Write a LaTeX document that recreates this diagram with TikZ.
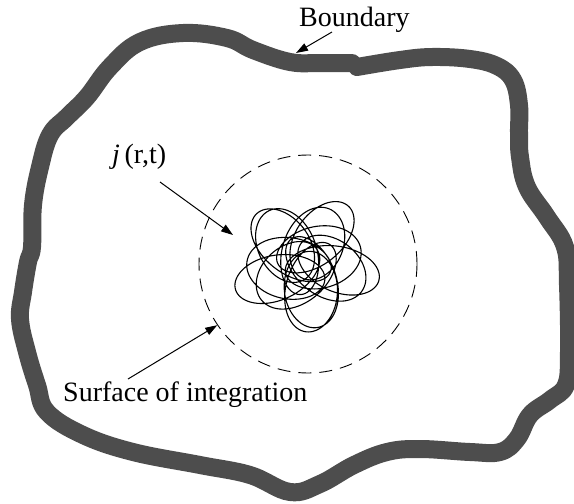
\documentclass[tikz,border=0pt]{standalone}
\usepackage{fontspec}
\setmainfont{Liberation Serif}
\usetikzlibrary{arrows.meta}
\definecolor{bnd}{HTML}{4D4D4D}
\definecolor{ink}{HTML}{000000}
\tikzset{
  wall/.style={draw=bnd,line width=18pt,line cap=round,line join=round},
  surf/.style={circle,draw=ink,line width=0.9pt,dash pattern=on 13pt off 8pt,minimum size=218pt,inner sep=0pt},
  curr/.style={draw=ink,line width=1.1pt},
  arr/.style={-{Triangle[length=12pt,width=8pt]},line width=1pt,draw=ink},
  lab/.style={font=\fontsize{28}{32}\selectfont,inner sep=0pt,anchor=base west},
}
\begin{document}
\begin{tikzpicture}[x=1pt,y=-1pt]
\useasboundingbox (0,0) rectangle (574,504);
% boundary
\draw[wall] plot[smooth,tension=0.65] coordinates {
  (357,67) (400,60) (432,57) (470,59) (497,66) (513,80) (519,105) (519,133) (520,157)
  (527,187) (547,217) (565,247) (568,285) (569,352) (566,385) (550,400)
  (530,415) (517,439) (500,452) (470,452) (420,449) (387,452) (354,465)
  (320,484) (290,492) (250,475) (200,465) (133,452) (83,435) (47,412)
  (37,385) (27,352) (20,319) (23,292) (28,262) (32,247) (33,205) (40,167)
  (50,135) (67,117) (87,97) (110,67) (140,42) (183,33) (227,38) (253,50)
  (290,62) (320,63) (352,63)};
% surface and current
\node[surf] (sf) at (308,264) {};
\draw[curr,shift={(306,264)}] plot[domain=0:360,samples=900,smooth,variable=\t]
  ({24*cos(\t)+34*cos(13*\t)+9*cos(-11*\t+25)+9*cos(-4*\t+40)},
   {21*sin(\t)+33*sin(13*\t)+9*sin(-11*\t+25)+9*sin(-4*\t+40)}) -- cycle;
% labels
\node[lab] (bl) at (299,26) {Boundary};
\node[lab] (jl) at (112,163) {\textit{j}\,(r,t)};
\node[lab] (sl) at (63,401) {Surface of integration};
\coordinate (bfrom) at (332,32);
\coordinate (bto) at (296,53);
\coordinate (jfrom) at (160,182);
\coordinate (jto) at (233,235);
\coordinate (sfrom) at (128,379);
\draw[arr] (bfrom) -- (bto);
\draw[arr] (jfrom) -- (jto);
\draw[arr] (sfrom) -- (sf.214);
\end{tikzpicture}
\end{document}
